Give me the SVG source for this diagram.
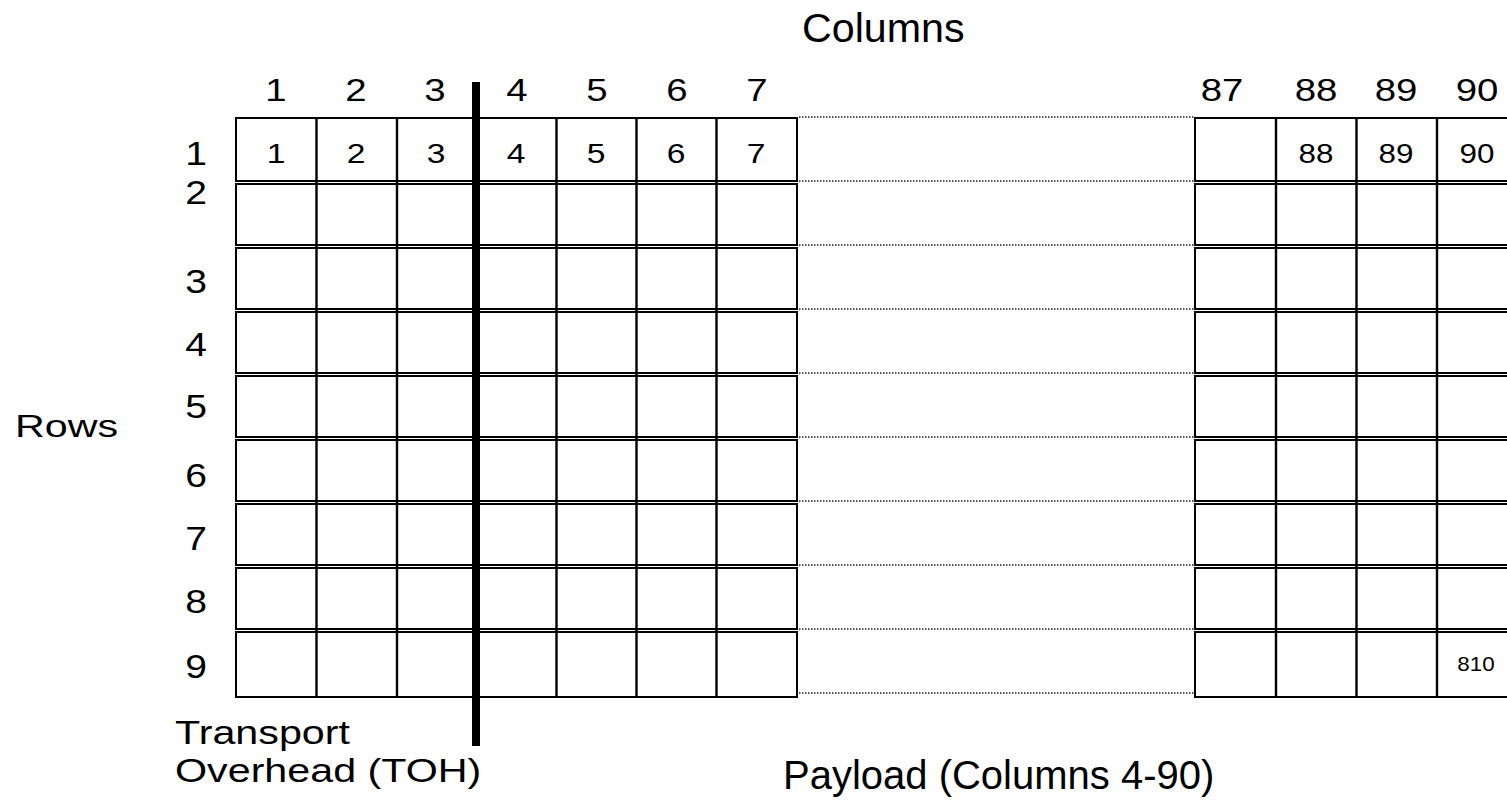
<svg xmlns="http://www.w3.org/2000/svg" width="1507" height="810" viewBox="0 0 1507 810">
<style>
.cell{fill:#fff;stroke:#000;stroke-width:2}
.vl{stroke:#000;stroke-width:2.4}
.dot{stroke:#222;stroke-width:1.3;stroke-dasharray:1.5 1.5}
text{font-family:"Liberation Sans",Arial,sans-serif;fill:#000}
.hd{font-size:32px;text-anchor:middle}
.rl{font-size:34px;text-anchor:middle}
.cn{font-size:28px;text-anchor:middle}
.sm{font-size:20px;text-anchor:middle}
</style>
<rect width="1507" height="810" fill="#fff"/>
<g id="dotted-lines">
<line class="dot" x1="799" y1="117" x2="1194" y2="117"/>
<line class="dot" x1="799" y1="181" x2="1194" y2="181"/>
<line class="dot" x1="799" y1="245" x2="1194" y2="245"/>
<line class="dot" x1="799" y1="309" x2="1194" y2="309"/>
<line class="dot" x1="799" y1="373" x2="1194" y2="373"/>
<line class="dot" x1="799" y1="437" x2="1194" y2="437"/>
<line class="dot" x1="799" y1="501" x2="1194" y2="501"/>
<line class="dot" x1="799" y1="565" x2="1194" y2="565"/>
<line class="dot" x1="799" y1="629" x2="1194" y2="629"/>
<line class="dot" x1="799" y1="693" x2="1194" y2="693"/>
</g>
<g id="left-grid">
<rect class="cell" x="236" y="118" width="561" height="63"/>
<rect class="cell" x="236" y="184" width="561" height="61"/>
<rect class="cell" x="236" y="248" width="561" height="61"/>
<rect class="cell" x="236" y="312" width="561" height="61"/>
<rect class="cell" x="236" y="376" width="561" height="61"/>
<rect class="cell" x="236" y="440" width="561" height="61"/>
<rect class="cell" x="236" y="504" width="561" height="61"/>
<rect class="cell" x="236" y="568" width="561" height="61"/>
<rect class="cell" x="236" y="632" width="561" height="65"/>
<line class="vl" x1="316.5" y1="118" x2="316.5" y2="697"/>
<line class="vl" x1="397" y1="118" x2="397" y2="697"/>
<line class="vl" x1="556.5" y1="118" x2="556.5" y2="697"/>
<line class="vl" x1="636.5" y1="118" x2="636.5" y2="697"/>
<line class="vl" x1="716.5" y1="118" x2="716.5" y2="697"/>
</g>
<g id="right-grid">
<rect class="cell" x="1195" y="118" width="340" height="63"/>
<rect class="cell" x="1195" y="184" width="340" height="61"/>
<rect class="cell" x="1195" y="248" width="340" height="61"/>
<rect class="cell" x="1195" y="312" width="340" height="61"/>
<rect class="cell" x="1195" y="376" width="340" height="61"/>
<rect class="cell" x="1195" y="440" width="340" height="61"/>
<rect class="cell" x="1195" y="504" width="340" height="61"/>
<rect class="cell" x="1195" y="568" width="340" height="61"/>
<rect class="cell" x="1195" y="632" width="340" height="65"/>
<line class="vl" x1="1276" y1="118" x2="1276" y2="697"/>
<line class="vl" x1="1356.5" y1="118" x2="1356.5" y2="697"/>
<line class="vl" x1="1437" y1="118" x2="1437" y2="697"/>
</g>
<g id="toh-divider">
<rect x="472" y="82" width="8" height="664" fill="#000"/>
</g>
<g id="column-headers">
<text class="hd" transform="translate(276,101) scale(1.2,1)">1</text>
<text class="hd" transform="translate(356,101) scale(1.2,1)">2</text>
<text class="hd" transform="translate(435,101) scale(1.2,1)">3</text>
<text class="hd" transform="translate(517,101) scale(1.2,1)">4</text>
<text class="hd" transform="translate(597,101) scale(1.2,1)">5</text>
<text class="hd" transform="translate(677,101) scale(1.2,1)">6</text>
<text class="hd" transform="translate(757,101) scale(1.2,1)">7</text>
<text class="hd" transform="translate(1222,101) scale(1.2,1)">87</text>
<text class="hd" transform="translate(1316,101) scale(1.2,1)">88</text>
<text class="hd" transform="translate(1396,101) scale(1.2,1)">89</text>
<text class="hd" transform="translate(1477,101) scale(1.2,1)">90</text>
</g>
<g id="row-labels">
<text class="rl" transform="translate(196,165) scale(1.15,1)">1</text>
<text class="rl" transform="translate(196,204) scale(1.15,1)">2</text>
<text class="rl" transform="translate(196,293) scale(1.15,1)">3</text>
<text class="rl" transform="translate(196,356) scale(1.15,1)">4</text>
<text class="rl" transform="translate(196,418) scale(1.15,1)">5</text>
<text class="rl" transform="translate(196,487) scale(1.15,1)">6</text>
<text class="rl" transform="translate(196,550) scale(1.15,1)">7</text>
<text class="rl" transform="translate(196,613) scale(1.15,1)">8</text>
<text class="rl" transform="translate(196,678) scale(1.15,1)">9</text>
</g>
<g id="cell-numbers">
<text class="cn" transform="translate(276,163) scale(1.2,1)">1</text>
<text class="cn" transform="translate(356,163) scale(1.2,1)">2</text>
<text class="cn" transform="translate(436,163) scale(1.2,1)">3</text>
<text class="cn" transform="translate(516,163) scale(1.2,1)">4</text>
<text class="cn" transform="translate(596,163) scale(1.2,1)">5</text>
<text class="cn" transform="translate(676,163) scale(1.2,1)">6</text>
<text class="cn" transform="translate(756,163) scale(1.2,1)">7</text>
<text class="cn" transform="translate(1316,163) scale(1.12,1)">88</text>
<text class="cn" transform="translate(1396,163) scale(1.12,1)">89</text>
<text class="cn" transform="translate(1477,163) scale(1.12,1)">90</text>
<text class="sm" transform="translate(1476,671) scale(1.12,1)">810</text>
</g>
<g id="titles">
<text font-size="40" transform="translate(802,42) scale(1.03,1)">Columns</text>
<text font-size="31" transform="translate(15,437) scale(1.33,1)">Rows</text>
<text font-size="33" transform="translate(175,744) scale(1.25,1)">Transport</text>
<text font-size="33" transform="translate(175,782) scale(1.25,1)">Overhead (TOH)</text>
<text font-size="40" x="783" y="789">Payload (Columns 4-90)</text>
</g>
</svg>
